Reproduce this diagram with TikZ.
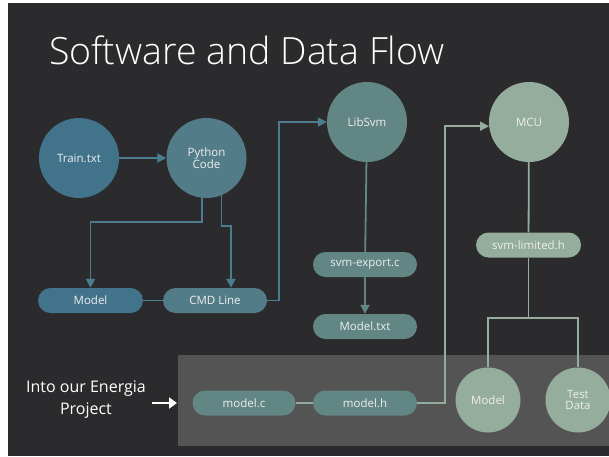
\documentclass[tikz,border=0pt]{standalone}
\usepackage{fontspec}
\setmainfont{Open Sans}
\newfontfamily\titlefont{Open Sans Light}
\usetikzlibrary{arrows.meta}

\definecolor{bgdark}{HTML}{2B2B2D}
\definecolor{panelgray}{HTML}{545454}
\definecolor{labeltext}{HTML}{EEEEEE}
\definecolor{steelA}{HTML}{41738A}
\definecolor{steelB}{HTML}{527C88}
\definecolor{tealC}{HTML}{628684}
\definecolor{sageD}{HTML}{94AD9C}
\definecolor{lineblue}{HTML}{4B7C90}

\begin{document}
\begin{tikzpicture}[x=1pt,y=-1pt,
  every node/.style={text=labeltext, font=\fontsize{11.5}{13.5}\selectfont, inner sep=0pt},
  bubble/.style={circle, minimum size=80pt, align=center},
  smallbubble/.style={circle, minimum size=65pt, align=center},
  pill/.style={rectangle, rounded corners=12.5pt, minimum width=104pt, minimum height=25pt},
  flow/.style={line width=1.8pt},
  tip/.style={-{Triangle[length=9pt,width=9pt]}}
]
\useasboundingbox (0,0) rectangle (609,456);
% backdrop and the project panel
\fill[white] (0,0) rectangle (609,456);
\fill[bgdark] (8,3) rectangle (609,456);
\fill[panelgray] (178,355) rectangle (609,446);

% title
\node[anchor=base west, font=\titlefont\fontsize{37.5}{40}\selectfont, text=white] (title) at (49,64) {Software and Data Flow};

% training side
\node[bubble, fill=steelA] (train) at (79,158) {Train.txt};
\node[bubble, fill=steelB] (py) at (206.5,158) {Python\\[-2pt]Code};
\node[pill, fill=steelA, minimum width=105pt] (model) at (90.5,300.5) {Model};
\node[pill, fill=steelB] (cmd) at (215,300.5) {CMD Line};

% LibSvm column
\node[bubble, fill=tealC] (lib) at (367,122) {LibSvm};
\node[pill, fill=tealC] (svmexp) at (365,264.5) {svm-export.c};
\node[pill, fill=tealC] (modeltxt) at (365,326.5) {Model.txt};

% MCU column
\node[bubble, fill=sageD] (mcu) at (529,122) {MCU};
\node[pill, fill=sageD, minimum width=105pt] (svmlim) at (528.5,245) {svm-limited.h};
\node[smallbubble, fill=sageD] (bmodel) at (488,400) {Model};
\node[smallbubble, fill=sageD] (test) at (578,400) {Test\\[-2pt]Data};

% Energia project files
\node[pill, fill=tealC, minimum width=103pt] (mc) at (244,403) {model.c};
\node[pill, fill=tealC] (mh) at (365,403) {model.h};

% side caption with its pointer
\node[align=center, font=\fontsize{16}{22}\selectfont, text=white] (into) at (86,400) {Into our Energia\\Project};
\coordinate (pstart) at (152,403);
\coordinate (pend) at (177,403);
\draw[line width=2.8pt, white, -{Triangle[length=8pt,width=11pt]}] (pstart) -- (pend);

% connectors of the training side
\draw[flow, lineblue, tip] (train) -- (py);
\draw[flow, lineblue, tip] (py.-96.5) -- ++(0,24) -| (model.north);
\draw[flow, lineblue, tip] (py.-68.7) -- ++(0,31) -| ([xshift=16pt]cmd.north);
\draw[flow, lineblue] (model) -- (cmd);
\draw[flow, lineblue, tip] (cmd.east) -- ++(12,0) |- (lib.west);

% connectors of the LibSvm column
\draw[flow, tealC] (lib) -- (svmexp);
\draw[flow, tealC, tip] (svmexp) -- (modeltxt);

% connectors of the MCU column
\coordinate (split) at (528.5,318);
\draw[flow, sageD] (mc) -- (mh);
\draw[flow, sageD, tip] (mh.east) -- ++(28,0) |- (mcu.186);
\draw[flow, sageD] (mcu) -- (svmlim);
\draw[flow, sageD] (svmlim.south) -- (split);
\draw[flow, sageD] (bmodel.north) |- (split) -| (test.north);
\end{tikzpicture}
\end{document}
